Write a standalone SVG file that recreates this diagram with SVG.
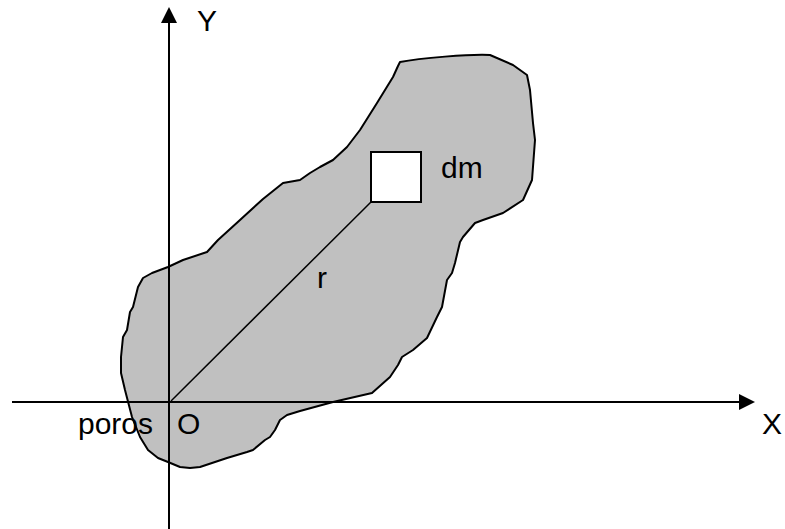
<svg xmlns="http://www.w3.org/2000/svg" width="785" height="529" viewBox="0 0 785 529">
<style>
.lbl{font-family:"Liberation Sans",Arial,sans-serif;font-size:30px;fill:#000}
.ax{stroke:#000;stroke-width:2;fill:none}
</style>
<defs>
<marker id="ah" markerUnits="userSpaceOnUse" markerWidth="16" markerHeight="16" refX="0" refY="8" orient="auto" viewBox="0 0 16 16">
<path d="M0,0 L16,8 L0,16 Z" fill="#000"/>
</marker>
</defs>
<rect width="785" height="529" fill="#fff"/>
<g id="body">
<path d="M400,62 C420,58 470,54 490,55 L513,65 L527,75 L530,90 L533,123 L535,140 L532,180 L523,200 L503,213 L483,220 L475,223 L463,237 L460,242 L455,263 L452,273 L447,280 L442,307 L437,317 L427,338 L413,350 L402,357 L398,365 L390,377 L372,393 L333,402 L300,411 L287,415 L280,420 L275,430 L270,437 L265,440 L253,450 L247,452 L227,458 L200,467 L190,468 L180,467 L168,462 L158,458 L148,450 L140,437 L132,417 L125,390 L121,373 L121,357 L123,337 L127,330 L130,312 L133,307 L138,287 L143,278 L152,273 L168,267 L183,260 L207,252 L218,240 L240,220 L263,199 L283,183 L300,180 L310,173 L320,167 L333,160 L347,147 L360,130 L377,103 L393,77 L398,66 Z" fill="#c0c0c0" stroke="#000" stroke-width="2" stroke-linejoin="round"/>
</g>
<g id="connectors">
<line id="y-axis" class="ax" x1="169" y1="529" x2="169" y2="23" marker-end="url(#ah)"/>
<line id="x-axis" class="ax" x1="12" y1="402" x2="739" y2="402" marker-end="url(#ah)"/>
<line id="r-line" x1="171" y1="401" x2="371" y2="202" stroke="#000" stroke-width="1.5"/>
</g>
<g id="dm-element">
<rect x="371" y="152" width="50" height="50" fill="#fff" stroke="#000" stroke-width="2"/>
<text class="lbl" x="441" y="178">dm</text>
</g>
<g id="labels">
<text class="lbl" x="197" y="31">Y</text>
<text class="lbl" x="762" y="434">X</text>
<text class="lbl" x="317" y="288">r</text>
<text class="lbl" x="177" y="434">O</text>
<text class="lbl" x="153" y="434" text-anchor="end">poros</text>
</g>
</svg>
